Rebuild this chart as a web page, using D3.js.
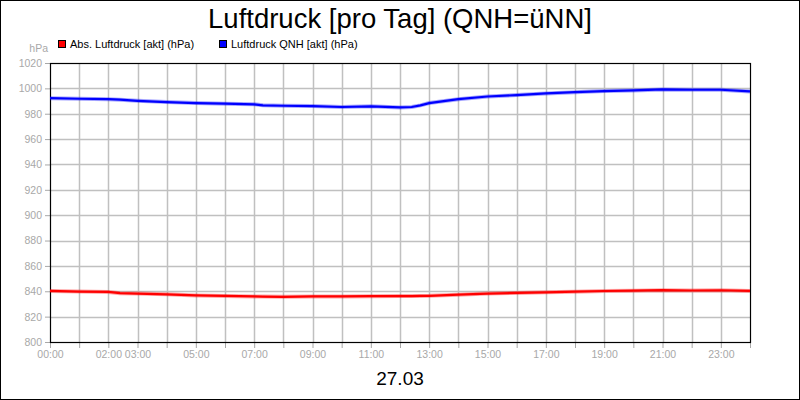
<!DOCTYPE html>
<html><head><meta charset="utf-8">
<script src="https://cdn.jsdelivr.net/npm/d3@7"></script>
<style>body{margin:0;background:#fff}svg{display:block;font-family:"Liberation Sans",Arial,sans-serif}</style>
</head><body><svg id="c" width="800" height="400"></svg>
<script>
const title = "Luftdruck [pro Tag] (QNH=üNN]";
const dateLabel = "27.03";
const unitLabel = "hPa";
const seriesNames = ["Abs. Luftdruck [akt] (hPa)", "Luftdruck QNH [akt] (hPa)"];
const seriesColors = ["#ff0000", "#0000ff"];
const hours = [0,1,2,2.4,3,4,5,6,7,7.3,8,9,10,11,12,12.4,12.7,13,14,15,16,17,18,19,20,21,22,23,24];
const absValues = [840.3,839.8,839.5,838.5,838.2,837.6,836.7,836.3,835.9,835.8,835.6,835.9,835.9,836.1,836.2,836.2,836.3,836.4,837.3,838.2,838.7,839.2,839.7,840.2,840.5,840.9,840.6,840.8,840.3];
const qnhValues = [992.3,991.8,991.5,991.1,990.2,989.2,988.4,987.9,987.4,986.6,986.3,986.0,985.3,985.8,985.0,985.3,986.6,988.4,991.5,993.6,994.7,996.0,997.0,997.9,998.4,999.2,998.9,998.9,997.6];
const yTicks = d3.range(800, 1021, 20);
const xLabelHours = [0,2,3,5,7,9,11,13,15,17,19,21,23];

const svg = d3.select("#c");
const W = 800, H = 400;
const L = 50, R = 750, T = 63, B = 342;
const x = d3.scaleLinear().domain([0,24]).range([L,R]);
const y = d3.scaleLinear().domain([800,1020]).range([B,T]);
const gray = "#a8a8a8";

svg.append("rect").attr("x",0.5).attr("y",0.5).attr("width",W-1).attr("height",H-1).attr("fill","#fff").attr("stroke","#000");

svg.append("text").attr("x",400).attr("y",28).attr("text-anchor","middle").attr("font-size",27.5).attr("fill","#000").text(title);

// legend
const leg = [[58,70],[219,231]];
seriesNames.forEach((n,i)=>{
  svg.append("rect").attr("x",leg[i][0]+0.5).attr("y",40.5).attr("width",7).attr("height",7).attr("fill",seriesColors[i]).attr("stroke","#000");
  svg.append("text").attr("x",leg[i][1]).attr("y",48).attr("font-size",11).attr("fill","#000").text(n);
});
svg.append("text").attr("x",48).attr("y",52).attr("text-anchor","end").attr("font-size",10.5).attr("fill",gray).text(unitLabel);

// grid
const hourTicks = d3.range(0,25);
svg.append("g").selectAll("line").data(hourTicks.filter(h=>h>0&&h<24)).join("line")
  .attr("x1",d=>Math.round(x(d))+0.5).attr("x2",d=>Math.round(x(d))+0.5).attr("y1",T).attr("y2",B)
  .attr("stroke","#c0c0c0").attr("stroke-width",1.5);
svg.append("g").selectAll("line").data(yTicks.filter(v=>v>800&&v<1020)).join("line")
  .attr("x1",L).attr("x2",R).attr("y1",d=>Math.round(y(d))+0.5).attr("y2",d=>Math.round(y(d))+0.5)
  .attr("stroke","#c0c0c0").attr("stroke-width",1.5);

// y axis
const ya = svg.append("g").attr("transform",`translate(${L},0)`).call(d3.axisLeft(y).tickValues(yTicks).tickSize(5).tickPadding(3).tickFormat(d3.format("d")));
ya.select(".domain").remove();
ya.selectAll(".tick line").attr("stroke",gray);
ya.selectAll(".tick text").attr("fill",gray).attr("font-size",10.5).attr("font-family","Liberation Sans, Arial, sans-serif");

// x axis
const xa = svg.append("g").attr("transform",`translate(0,${B})`).call(d3.axisBottom(x).tickValues(hourTicks).tickSize(6).tickPadding(3)
  .tickFormat(d=>xLabelHours.includes(d)?String(d).padStart(2,"0")+":00":""));
xa.select(".domain").remove();
xa.selectAll(".tick line").attr("stroke",gray);
xa.selectAll(".tick text").attr("fill",gray).attr("font-size",10.5).attr("font-family","Liberation Sans, Arial, sans-serif");

// plot frame
svg.append("rect").attr("x",L+0.5).attr("y",T+0.5).attr("width",R-L).attr("height",B-T).attr("fill","none").attr("stroke","#000").attr("stroke-width",1.2);

// lines
const line = d3.line().x((d,i)=>x(hours[i])).y(d=>y(d));
[absValues,qnhValues].forEach((vals,i)=>{
  svg.append("path").datum(vals).attr("d",line).attr("fill","none").attr("stroke",seriesColors[i]).attr("stroke-opacity",0.35).attr("stroke-width",4);
  svg.append("path").datum(vals).attr("d",line).attr("fill","none").attr("stroke",seriesColors[i]).attr("stroke-width",2.2);
});

svg.append("text").attr("x",400).attr("y",385).attr("text-anchor","middle").attr("font-size",19).attr("fill","#000").text(dateLabel);
</script></body></html>
